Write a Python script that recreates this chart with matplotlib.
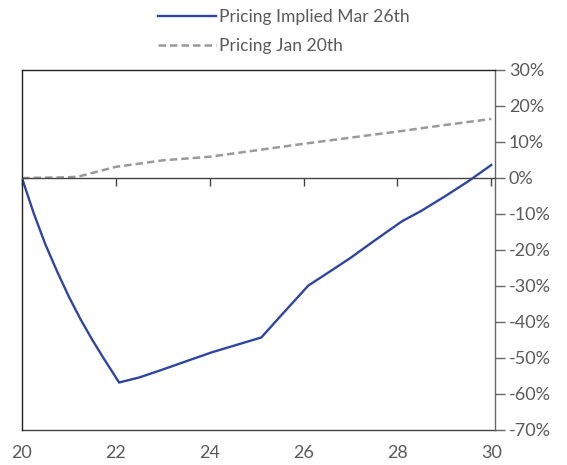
import matplotlib
matplotlib.use("Agg")
import matplotlib.pyplot as plt
from matplotlib.ticker import FuncFormatter, FixedLocator

plt.rcParams['font.family'] = ['Lato', 'DejaVu Sans']

# Data
implied_x = [20, 20.25, 20.5, 20.75, 21, 21.25, 21.5, 21.75, 22.07, 22.5, 23, 23.5, 24.05, 25.1, 25.5, 26.1, 26.5, 27, 27.5, 28.1, 28.5, 29, 29.5, 30]
implied_y = [0, -9.8, -18.5, -26, -33, -39.3, -45, -50.3, -56.8, -55.4, -53.2, -50.9, -48.4, -44.3, -38.5, -29.9, -26.5, -22.2, -17.5, -12, -9.2, -5.2, -1.0, 3.6]
jan_x = [20, 21, 21.2, 22, 23, 24, 25, 26, 27, 28, 29, 30]
jan_y = [0, 0.2, 0.4, 3.1, 4.9, 5.9, 7.7, 9.5, 11.2, 12.9, 14.7, 16.4]
x_ticks = [20, 22, 24, 26, 28, 30]
y_ticks = [30, 20, 10, 0, -10, -20, -30, -40, -50, -60, -70]
labels = ["Pricing Implied Mar 26th", "Pricing Jan 20th"]

blue = "#2E46A1"
gray = "#9A9A9C"
txt = "#5A5A5A"

fig = plt.figure(figsize=(5.67, 4.65), dpi=100)
ax = fig.add_axes([22/567, 35/465, (495-22)/567, (430-70)/465])

l1, = ax.plot(implied_x, implied_y, color=blue, lw=1.7, solid_joinstyle='miter')
l2, = ax.plot(jan_x, jan_y, color=gray, lw=1.8, dashes=(3, 1.6))

ax.set_xlim(20, 30.08)
ax.set_ylim(-70, 30)

# Bottom spine at zero with ticks pointing down, no labels
ax.spines['bottom'].set_position(('data', 0))
ax.spines['bottom'].set_color('#444444')
ax.spines['bottom'].set_linewidth(1.0)
ax.xaxis.set_major_locator(FixedLocator(x_ticks))
ax.tick_params(axis='x', direction='out', length=6, width=1, color='#444444', labelbottom=False)

# secondary axis at bottom for labels and frame
sec = ax.secondary_xaxis('bottom')
sec.set_xticks(x_ticks)
sec.tick_params(length=0, labelsize=13, labelcolor=txt, pad=11)
sec.spines['bottom'].set_color('#444444')
sec.spines['bottom'].set_linewidth(1.0)

for s in ['top', 'left']:
    ax.spines[s].set_color('#222222')
    ax.spines[s].set_linewidth(1.0)
ax.spines['right'].set_color('#666666')
ax.spines['right'].set_linewidth(1.0)

ax.yaxis.tick_right()
ax.yaxis.set_major_locator(FixedLocator(y_ticks))
ax.yaxis.set_major_formatter(FuncFormatter(lambda v, p: f"{int(v)}%".replace('\u2212', '-')))
ax.tick_params(axis='y', direction='out', length=7, width=1, color='#666666',
               labelsize=13, labelcolor=txt, pad=3)

leg = fig.legend([l1, l2], labels, loc='upper left', bbox_to_anchor=(158/567, 1 - 9/465),
                 frameon=False, fontsize=12.6, handlelength=3.3, handletextpad=0.2,
                 labelspacing=0.75, borderpad=0, borderaxespad=0)
for t in leg.get_texts():
    t.set_color(txt)

fig.savefig("out.png", dpi=100)
